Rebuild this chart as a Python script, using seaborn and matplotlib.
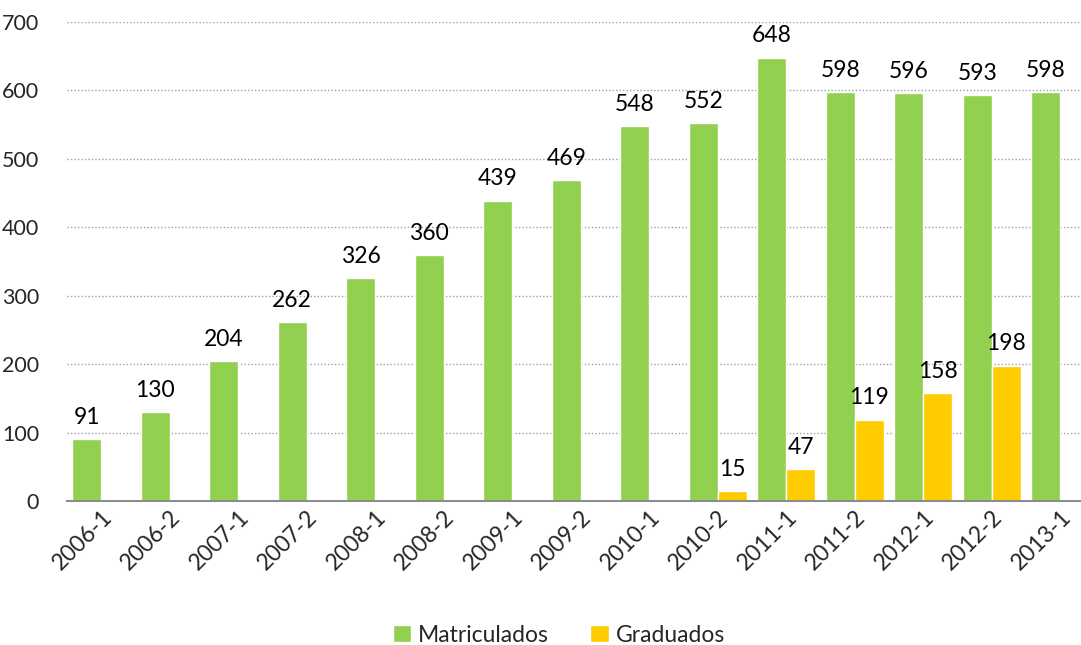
import numpy as np
import pandas as pd
import matplotlib
matplotlib.use("Agg")
import matplotlib.pyplot as plt
import seaborn as sns

periods = ["2006-1", "2006-2", "2007-1", "2007-2", "2008-1", "2008-2", "2009-1", "2009-2",
           "2010-1", "2010-2", "2011-1", "2011-2", "2012-1", "2012-2", "2013-1"]
matriculados = [91, 130, 204, 262, 326, 360, 439, 469, 548, 552, 648, 598, 596, 593, 598]
graduados = [np.nan] * 9 + [15, 47, 119, 158, 198, np.nan]
series_names = ["Matriculados", "Graduados"]
colors = ["#92D050", "#FFCC00"]

sns.set_theme(style="white")
plt.rcParams["font.family"] = ["Lato", "DejaVu Sans"]

df = pd.DataFrame({
    "Periodo": periods * 2,
    "Valor": matriculados + graduados,
    "Serie": [series_names[0]] * len(periods) + [series_names[1]] * len(periods),
})

fig = plt.figure(figsize=(10.81, 6.45), dpi=100)
ax = fig.add_axes([67 / 1081, 1 - 501 / 645, 1 - 67 / 1081, (501 - 22) / 645])

sns.barplot(data=df, x="Periodo", y="Valor", hue="Serie", palette=colors,
            width=0.85, ax=ax, saturation=1, legend=True)

for cont in ax.containers:
    labels = ["" if np.isnan(v) else f"{int(v)}" for v in cont.datavalues]
    ax.bar_label(cont, labels=labels, padding=8, fontsize=16.5, color="black")

ax.set_ylim(0, 700)
ax.set_xlim(-0.5, -0.5 + 1014 / 68.5)
ax.set_yticks(range(0, 701, 100))
ax.yaxis.grid(True, linestyle=(0, (1, 1.5)), color="#A0A0A0", linewidth=1)
ax.set_axisbelow(True)
for s in ["top", "right", "left"]:
    ax.spines[s].set_visible(False)
ax.spines["bottom"].set_color("#8C8C8C")
ax.spines["bottom"].set_linewidth(1.5)
ax.set_xlabel("")
ax.set_ylabel("")
ax.tick_params(axis="y", labelsize=15.5, length=0, pad=20)
ax.tick_params(axis="x", labelsize=16.5, length=0, pad=4)
plt.setp(ax.get_xticklabels(), rotation=45, ha="right", rotation_mode="anchor")

ax.legend(loc="lower center", bbox_to_anchor=(0.485, -0.345), ncol=2, frameon=False,
          fontsize=16.5, handlelength=0.8, handleheight=0.8, handletextpad=0.3,
          columnspacing=1.8)

fig.savefig("out.png", dpi=100)
